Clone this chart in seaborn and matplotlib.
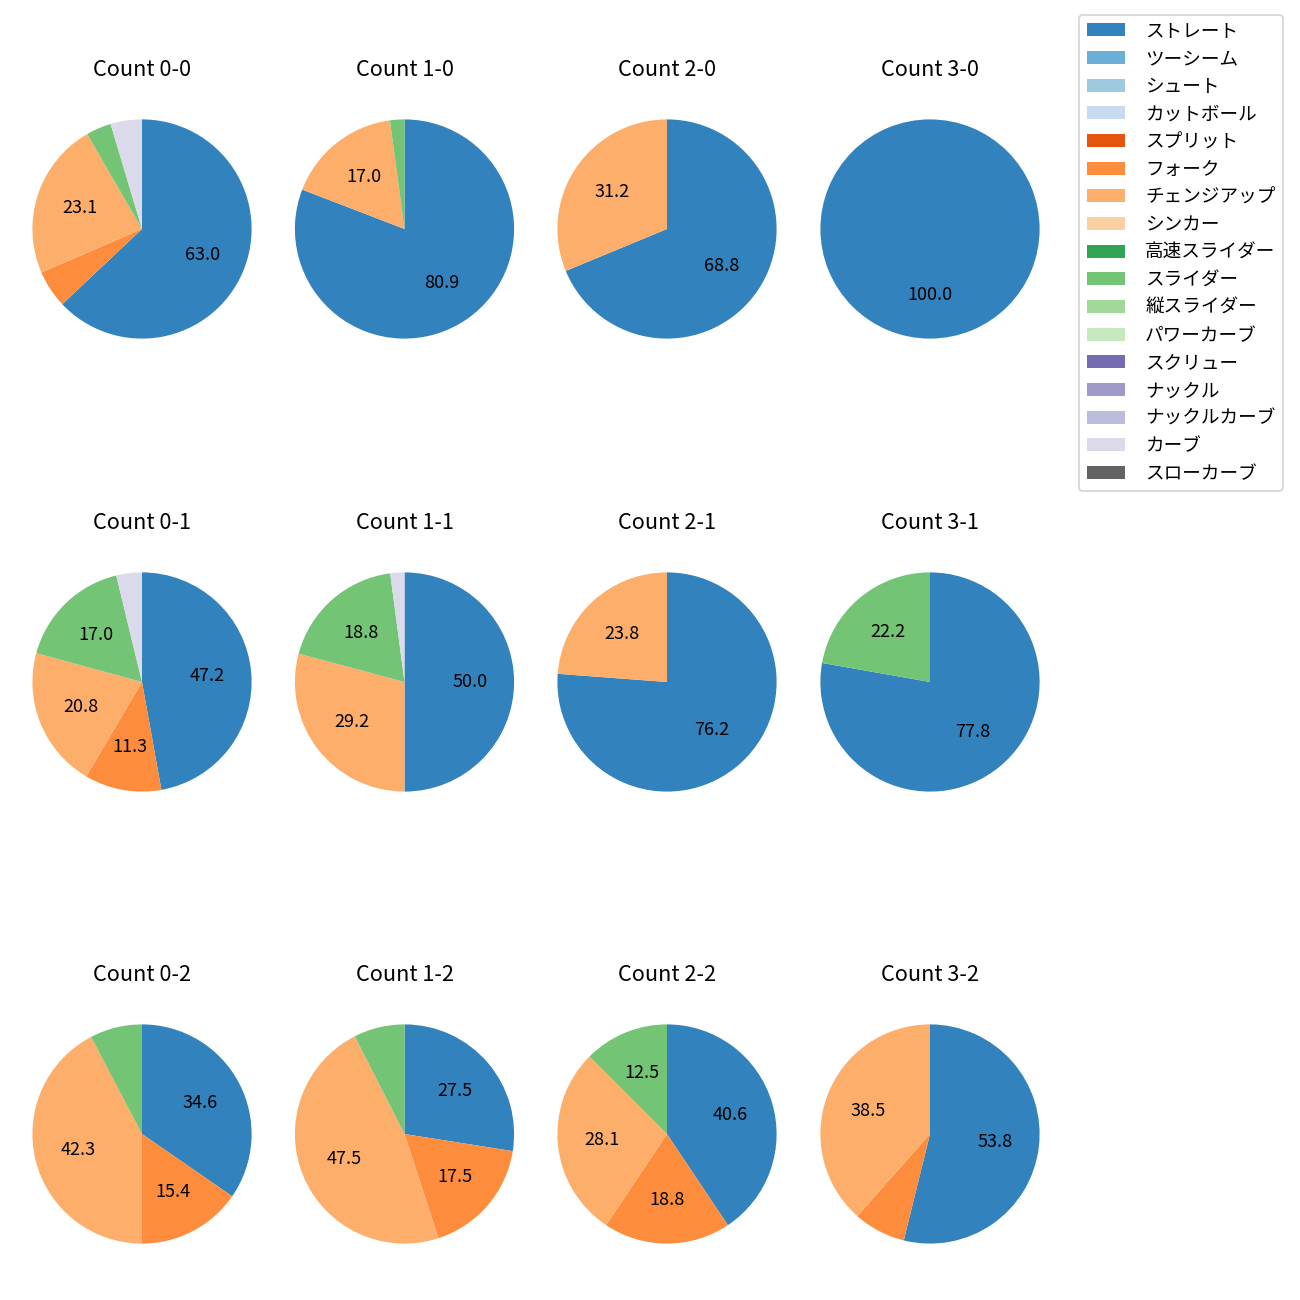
import matplotlib
matplotlib.use("Agg")
import matplotlib.pyplot as plt
from matplotlib.patches import Patch
import seaborn as sns

plt.rcParams['font.family'] = ['Noto Sans CJK JP', 'DejaVu Sans']

pitch_types = ["ストレート", "ツーシーム", "シュート", "カットボール", "スプリット", "フォーク",
               "チェンジアップ", "シンカー", "高速スライダー", "スライダー", "縦スライダー",
               "パワーカーブ", "スクリュー", "ナックル", "ナックルカーブ", "カーブ", "スローカーブ"]

counts = ["0-0", "1-0", "2-0", "3-0", "0-1", "1-1", "2-1", "3-1", "0-2", "1-2", "2-2", "3-2"]

# number of pitches per type for each count (same order as counts)
straight = [68, 38, 11, 5, 25, 24, 16, 7, 9, 11, 13, 7]
fork = [6, 0, 0, 0, 6, 0, 0, 0, 4, 7, 6, 1]
changeup = [25, 8, 5, 0, 11, 14, 5, 0, 11, 19, 9, 5]
slider = [4, 1, 0, 0, 9, 9, 0, 2, 2, 3, 4, 0]
curve = [5, 0, 0, 0, 2, 1, 0, 0, 0, 0, 0, 0]

series = {"ストレート": straight, "フォーク": fork, "チェンジアップ": changeup,
          "スライダー": slider, "カーブ": curve}

colors = sns.color_palette("tab20c", 20)[:17]

W = H = 1300
fig = plt.figure(figsize=(10, 10), dpi=130)

col_cx = [142, 404.5, 667, 930]
row_cy = [229, 682, 1134]
size = 274


def fmt(p):
    return f"{p:.1f}" if p >= 10 else ""


for i, c in enumerate(counts):
    r, k = divmod(i, 4)
    cx, cy = col_cx[k], row_cy[r]
    ax = fig.add_axes([(cx - size / 2) / W, 1 - (cy + size / 2) / H, size / W, size / H])
    vals = [series[p][i] if p in series else 0 for p in pitch_types]
    ax.pie(vals, colors=colors, startangle=90, counterclock=False,
           autopct=fmt, pctdistance=0.6, textprops={"fontsize": 10})
    ax.set_title(f"Count {c}", fontsize=12, pad=8.8)

handles = [Patch(facecolor=colors[j], label=pitch_types[j]) for j in range(17)]
fig.legend(handles=handles, loc="upper right", bbox_to_anchor=(1283 / W, 1 - 15 / H),
           borderaxespad=0, fontsize=10.3, handlelength=2.05, handletextpad=1.1,
           labelspacing=0.52)

fig.savefig("out.png", dpi=130)
